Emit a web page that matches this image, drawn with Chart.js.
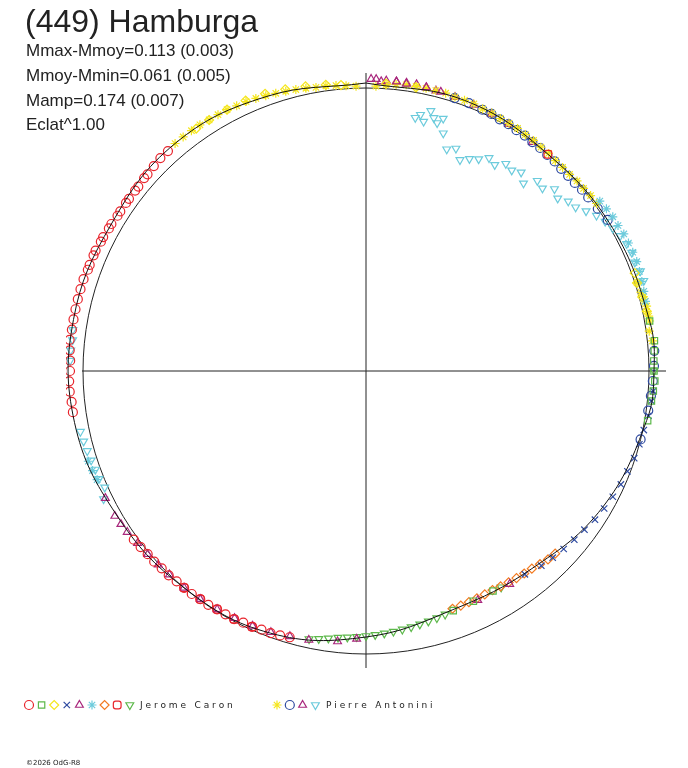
<!DOCTYPE html>
<html>
<head>
<meta charset="utf-8">
<script src="https://cdn.jsdelivr.net/npm/chart.js@4"></script>
<style>
  body { margin: 0; background: #fff; }
  #wrap { position: relative; width: 688px; height: 768px; }
  .t { position: absolute; font-family: "Liberation Sans", Arial, sans-serif; color: #222; white-space: nowrap; }
</style>
</head>
<body>
<div id="wrap">
  <canvas id="grafico" width="688" height="768"></canvas>
  <div class="t" style="left:25px;top:3px;font-size:32px;">(449) Hamburga</div>
  <div class="t" style="left:26px;top:41px;font-size:17px;">Mmax-Mmoy=0.113 (0.003)</div>
  <div class="t" style="left:26px;top:66px;font-size:17px;">Mmoy-Mmin=0.061 (0.005)</div>
  <div class="t" style="left:26px;top:91px;font-size:17px;">Mamp=0.174 (0.007)</div>
  <div class="t" style="left:26px;top:115px;font-size:17px;">Eclat^1.00</div>
</div>
<script>
// Puntos [fase en grados (sentido horario desde arriba), radio]
const jcCirculo = [[318,296],[316,296],[314,295],[312,294],[311,294],[309,293],[308,293],[306,293],[305,293],[303,293],[302,293],[300,294],[299,294],[297,295],[296,295],[294,296],[293,296],[291,296],[290,296],[288,297],[286,297],[284,297],[282,297],[280,297],[278,297],[276,298],[274,297],[272,296],[270,296],[268,297],[266,297],[264,296],[262,296],[234,287],[232,286],[230,285],[228,285],[226,284],[224,284],[222,283],[220,283],[218,283],[216,282],[214,282],[212,281],[210,281],[208,281],[206,280],[204,280],[202,279],[200,279],[198,278],[196,277]];
const jcCuadrado = [[80,288],[84,290],[86,289],[88,288],[90,288],[92,289],[94,288],[96,287],[100,286],[150,254],[155,254],[160,255]];
const jcRombo = [[325,296],[328,296],[332,296],[336,296],[340,295],[344,293],[348,291],[352,289],[355,287],[4,288],[10,288],[70,286],[72,285],[75,286],[78,287]];
const jcCruz = [[94,288],[96,287],[99,286],[102,284],[105,283],[108,282],[111,280],[114,279],[117,277],[120,275],[123,273],[126,270],[129,268],[132,266],[135,264],[138,262],[142,258]];
const jcTriangulo = [[244,290],[240,290],[238,289],[236,288],[233,286],[230,285],[227,284],[224,283],[220,283],[216,282],[212,281],[208,280],[204,279],[200,278],[196,276],[192,275],[186,272],[182,268],[3,290],[6,291],[8,290],[12,290],[15,289],[146,257],[154,255]];
const jcEstrella = [[54,289],[56,290],[58,291],[60,291],[62,292],[64,292],[66,292],[68,292],[70,291],[72,290],[74,289],[76,288],[248,290],[250,291],[252,292]];
const jcNaranja = [[134,263],[136,262],[138,260],[140,258],[142,257],[144,256],[146,255],[148,254],[150,253],[152,253],[154,253],[156,253],[158,253],[160,253]];
const jcPentagono = [[220,283],[216,282],[212,281],[208,281],[204,280],[40,283]];
const jcTrianguloInv = [[162,256],[164,257],[166,258],[168,259],[170,260],[172,261],[174,262],[176,263],[178,264],[180,265],[182,266],[184,267],[186,268],[188,270],[190,272],[192,274],[148,255],[90,288]];

const paEstrella = [[320,297],[322,297],[324,297],[326,297],[328,296],[330,296],[332,296],[334,295],[336,295],[338,294],[340,293],[342,292],[344,291],[346,290],[348,289],[350,288],[352,288],[354,287],[356,286],[358,285],[2,285],[4,287],[6,288],[8,289],[10,289],[12,289],[14,289],[16,289],[18,288],[20,288],[22,288],[24,287],[26,287],[28,286],[30,286],[32,286],[34,285],[36,285],[38,284],[40,284],[42,283],[44,283],[46,283],[48,284],[50,284],[52,285],[54,285],[72,285],[74,286],[75,287],[76,287],[77,288],[78,287],[79,288],[80,288],[82,286],[84,288]];
const paHexagono = [[18,287],[21,287],[24,286],[26,286],[28,285],[30,285],[32,284],[34,284],[36,283],[38,283],[40,282],[42,282],[44,281],[46,281],[48,281],[50,282],[52,282],[55,283],[58,285],[86,289],[89,288],[92,287],[95,286],[98,285],[104,283]];
const paTriangulo = [[1,292],[2,292],[4,291],[6,291],[8,291],[10,291],[12,290],[14,289],[18,288],[22,287],[26,286],[30,285],[36,283]];
const paTrianguloInv = [[11,258],[12,262],[13,256],[14,268],[15,262],[16,258],[17,264],[18,250],[20,236],[22,240],[24,231],[26,236],[28,240],[30,246],[32,243],[34,250],[36,248],[38,252],[40,245],[42,256],[44,254],[46,262],[48,258],[50,264],[52,266],[54,272],[56,278],[58,282],[60,285],[62,288],[64,290],[66,291],[68,290],[70,292],[72,292],[274,296],[272,296],[276,295],[278,296],[258,292],[256,291],[254,290],[252,289],[250,288],[248,288],[246,286],[244,292]];

// Curva media ajustada
const curvaMedia = [[0,288],[20,288],[40,283],[60,285],[80,288],[90,288],[100,285],[120,273],[140,258],[160,254],[180,266],[200,279],[220,283],[240,288],[260,296],[280,297],[300,294],[320,297],[340,292],[360,288]];
const radioReferencia = 283;

function aXY(lista) {
  return lista.map(p => {
    const a = p[0] * Math.PI / 180;
    return { x: p[1] * Math.sin(a), y: p[1] * Math.cos(a) };
  });
}

const series = [
  { datos: jcCirculo, color: "#e8242c", estilo: "circle", rot: 0 },
  { datos: jcCuadrado, color: "#5cb84a", estilo: "rect", rot: 0 },
  { datos: jcRombo, color: "#f5e61c", estilo: "rectRot", rot: 0 },
  { datos: jcCruz, color: "#2e4aa0", estilo: "crossRot", rot: 0 },
  { datos: jcTriangulo, color: "#a8267c", estilo: "triangle", rot: 0 },
  { datos: jcEstrella, color: "#6ccbdc", estilo: "star", rot: 0 },
  { datos: jcNaranja, color: "#f27a20", estilo: "rectRot", rot: 0 },
  { datos: jcPentagono, color: "#e8242c", estilo: "rectRounded", rot: 0 },
  { datos: jcTrianguloInv, color: "#5cb84a", estilo: "triangle", rot: 180 },
  { datos: paEstrella, color: "#f5e61c", estilo: "star", rot: 0 },
  { datos: paHexagono, color: "#2e4aa0", estilo: "circle", rot: 0 },
  { datos: paTriangulo, color: "#a8267c", estilo: "triangle", rot: 0 },
  { datos: paTrianguloInv, color: "#6ccbdc", estilo: "triangle", rot: 180 }
];

const datasets = [{
  data: aXY(curvaMedia), showLine: true, tension: 0.4, borderColor: "#111",
  borderWidth: 1, pointRadius: 0
}];
series.forEach(s => datasets.push({
  data: aXY(s.datos), pointStyle: s.estilo, rotation: s.rot, pointRadius: 4.5,
  borderColor: s.color, backgroundColor: "rgba(0,0,0,0)", pointBorderWidth: 1.2, showLine: false
}));

// Ejes y círculo de referencia
const ejesPlugin = {
  id: "ejes",
  beforeDatasetsDraw(chart) {
    const ctx = chart.ctx, sx = chart.scales.x, sy = chart.scales.y;
    ctx.save();
    ctx.strokeStyle = "#222"; ctx.lineWidth = 1;
    ctx.beginPath();
    ctx.moveTo(sx.getPixelForValue(-284), sy.getPixelForValue(0));
    ctx.lineTo(sx.getPixelForValue(300), sy.getPixelForValue(0));
    ctx.moveTo(sx.getPixelForValue(0), sy.getPixelForValue(298));
    ctx.lineTo(sx.getPixelForValue(0), sy.getPixelForValue(-297));
    ctx.stroke();
    const cx = sx.getPixelForValue(0), cy = sy.getPixelForValue(0);
    const r = sx.getPixelForValue(radioReferencia) - cx;
    ctx.beginPath(); ctx.arc(cx, cy, r, 0, 2 * Math.PI); ctx.stroke();
    ctx.restore();
  }
};

// Leyenda y pie
const leyendaPlugin = {
  id: "leyenda",
  afterDraw(chart) {
    const ctx = chart.ctx;
    const dibujar = (s, x) => {
      ctx.save(); ctx.strokeStyle = s.color; ctx.fillStyle = "rgba(0,0,0,0)"; ctx.lineWidth = 1.2;
      Chart.helpers.drawPoint(ctx, { pointStyle: s.estilo, rotation: s.rot, radius: 4.5, borderWidth: 1.2 }, x, 705);
      ctx.restore();
    };
    series.slice(0, 9).forEach((s, i) => dibujar(s, 29 + i * 12.6));
    series.slice(9).forEach((s, i) => dibujar(s, 277 + i * 12.8));
    ctx.save();
    ctx.font = "9px 'DejaVu Sans', sans-serif"; ctx.fillStyle = "#222"; ctx.textBaseline = "middle";
    ctx.fillText("J e r o m e   C a r o n", 140, 706);
    ctx.fillText("P i e r r e   A n t o n i n i", 326, 706);
    ctx.font = "7px 'DejaVu Sans', sans-serif";
    ctx.fillText("©2026 OdG-R8", 26, 763);
    ctx.restore();
  }
};

new Chart(document.getElementById("grafico"), {
  type: "scatter",
  data: { datasets: datasets },
  options: {
    responsive: false, animation: false,
    layout: { padding: { left: 66, right: 22, top: 71, bottom: 97 } },
    scales: {
      x: { display: false, min: -300, max: 300 },
      y: { display: false, min: -300, max: 300 }
    },
    plugins: { legend: { display: false }, tooltip: { enabled: false } }
  },
  plugins: [ejesPlugin, leyendaPlugin]
});
</script>
</body>
</html>
